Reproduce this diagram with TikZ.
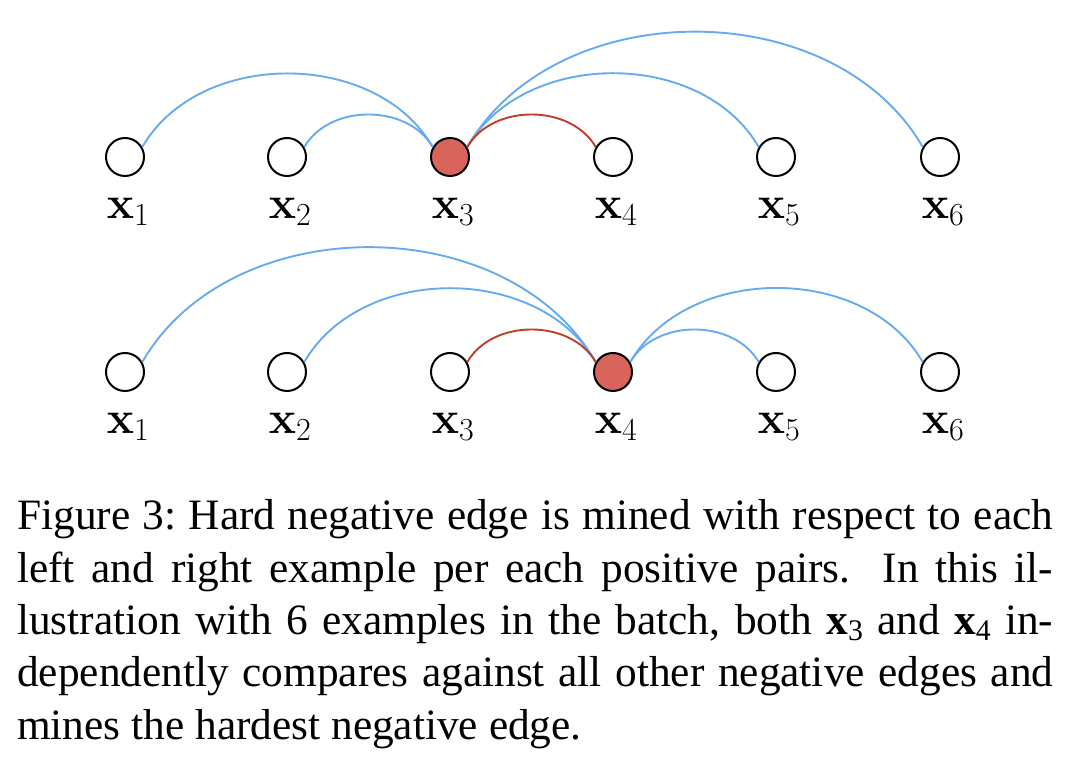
\RequirePackage{fix-cm}
\documentclass[tikz,border=0pt]{standalone}
\usepackage[no-math]{fontspec}
\setmainfont{Liberation Serif}
\definecolor{edgeblue}{RGB}{102,170,240}
\definecolor{edgered}{RGB}{190,62,42}
\definecolor{nodered}{RGB}{217,100,92}
\newcommand{\capsize}{\fontsize{43.5}{52.3}\selectfont}
\newcommand{\capx}[1]{\textbf{x}\raisebox{-0.28ex}{\fontsize{30}{34}\selectfont #1}}
\begin{document}
\begin{tikzpicture}[x=1bp,y=1bp,
  ex/.style={circle, draw=black, line width=2bp, minimum size=38bp, inner sep=0pt, fill=white},
  hard/.style={ex, fill=nodered},
  lbl/.style={font=\fontsize{46}{54}\selectfont, anchor=base, inner sep=0pt},
  negedge/.style={draw=edgeblue, line width=1.9bp},
  posedge/.style={draw=edgered, line width=1.9bp},
  capline/.style={anchor=base west, inner sep=0pt, font=\capsize}]
\useasboundingbox (0,0) rectangle (1080,758);
% row 1
\node[ex]   (a1) at (125,601) {};
\node[ex]   (a2) at (287,601) {};
\node[hard] (a3) at (450,601) {};
\node[ex]   (a4) at (613,601) {};
\node[ex]   (a5) at (776,601) {};
\node[ex]   (a6) at (940,601) {};
\node[lbl] (la1) at (128,539) {$\mathbf{x}_1$};
\node[lbl] (la2) at (290,539) {$\mathbf{x}_2$};
\node[lbl] (la3) at (453,539) {$\mathbf{x}_3$};
\node[lbl] (la4) at (616,539) {$\mathbf{x}_4$};
\node[lbl] (la5) at (779,539) {$\mathbf{x}_5$};
\node[lbl] (la6) at (943,539) {$\mathbf{x}_6$};
\draw[negedge] (a1.30) to[out=60,in=120] (a3.150);
\draw[negedge] (a2.30) to[out=60,in=120] (a3.150);
\draw[negedge] (a3.30) to[out=60,in=120] (a5.150);
\draw[negedge] (a3.30) to[out=60,in=120] (a6.150);
\draw[posedge] (a3.30) to[out=60,in=120] (a4.150);
% row 2
\node[ex]   (b1) at (125,386) {};
\node[ex]   (b2) at (287,386) {};
\node[ex]   (b3) at (450,386) {};
\node[hard] (b4) at (613,386) {};
\node[ex]   (b5) at (776,386) {};
\node[ex]   (b6) at (940,386) {};
\node[lbl] (lb1) at (128,324) {$\mathbf{x}_1$};
\node[lbl] (lb2) at (290,324) {$\mathbf{x}_2$};
\node[lbl] (lb3) at (453,324) {$\mathbf{x}_3$};
\node[lbl] (lb4) at (616,324) {$\mathbf{x}_4$};
\node[lbl] (lb5) at (779,324) {$\mathbf{x}_5$};
\node[lbl] (lb6) at (943,324) {$\mathbf{x}_6$};
\draw[negedge] (b1.30) to[out=60,in=120] (b4.150);
\draw[negedge] (b2.30) to[out=60,in=120] (b4.150);
\draw[negedge] (b4.30) to[out=60,in=120] (b5.150);
\draw[negedge] (b4.30) to[out=60,in=120] (b6.150);
\draw[posedge] (b3.30) to[out=60,in=120] (b4.150);
% caption
\node[capline] (c1) at (17,228) {\makebox[1036bp][s]{Figure 3:\ Hard negative edge is mined with respect to each}};
\node[capline] (c2) at (17,175.7) {\makebox[1036bp][s]{left and right example per each positive pairs. In this il-}};
\node[capline] (c3) at (17,123.4) {\makebox[1036bp][s]{lustration with 6 examples in the batch, both \capx{3} and \capx{4} in-}};
\node[capline] (c4) at (17,71.1) {\makebox[1036bp][s]{dependently compares against all other negative edges and}};
\node[capline] (c5) at (17,18.8) {mines the hardest negative edge.};
\end{tikzpicture}
\end{document}
